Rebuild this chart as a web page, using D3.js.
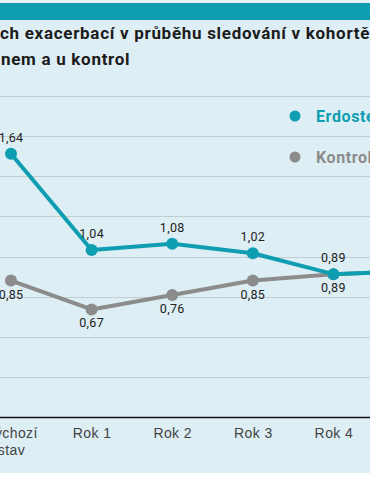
<!DOCTYPE html>
<html>
<head>
<meta charset="utf-8">
<script src="https://cdn.jsdelivr.net/npm/d3@7"></script>
<style>
  body { margin: 0; background: #fff; }
  svg { display: block; font-family: Roboto, "DejaVu Sans", sans-serif; }
</style>
</head>
<body>
<div id="chart"></div>
<script>
// data
var categories = ["Výchozí stav", "Rok 1", "Rok 2", "Rok 3", "Rok 4", "Rok 5"];
var erdostein = [1.64, 1.04, 1.08, 1.02, 0.89, 0.91];
var kontroly = [0.85, 0.67, 0.76, 0.85, 0.89, 0.91];
var yTicks = [0, 0.25, 0.5, 0.75, 1, 1.25, 1.5, 1.75, 2];
var seriesNames = ["Erdosteinem", "Kontroly"];
var titleLines = [
  "Počet akutních exacerbací v průběhu sledování v kohortě léčené",
  "erdosteinem a u kontrol"
];
// part of each title line that falls off the left edge in the source crop
var titleCut = ["Počet akutní", "erdostei"];

var svgWidth = 370;
var svgHeight = 478;
var teal = "#0f9db2";
var grey = "#8c8c8c";

var svg = d3.select("#chart")
  .append("svg")
  .attr("width", svgWidth)
  .attr("height", svgHeight);

// panel background + top band
svg.append("rect").attr("x", 0).attr("y", 0).attr("width", svgWidth).attr("height", 473).attr("fill", "#ddeef4");
svg.append("rect").attr("x", 0).attr("y", 0).attr("width", svgWidth).attr("height", 3).attr("fill", "#e6f3f6");
svg.append("rect").attr("x", 0).attr("y", 3).attr("width", svgWidth).attr("height", 17).attr("fill", teal);

// title, cropped on the left like the source picture
titleLines.forEach(function(line, i) {
  var t = svg.append("text")
    .attr("y", [39, 65][i])
    .attr("font-size", 17)
    .attr("font-weight", "bold")
    .attr("letter-spacing", 0.7)
    .attr("fill", "#1b1b1b")
    .text(line);
  var cut = t.node().getSubStringLength(0, titleCut[i].length);
  t.attr("x", -cut + (i == 0 ? 0 : 1));
});

// scales
var x = d3.scalePoint()
  .domain(categories)
  .range([11 - 80.6, 414 + 80.6])
  .padding(1);

var y = d3.scaleLinear()
  .domain([0, 2])
  .range([417, 96]);

// gridlines
svg.append("g")
  .selectAll("line")
  .data(yTicks.filter(d => d > 0))
  .enter()
  .append("line")
  .attr("x1", 0)
  .attr("x2", svgWidth)
  .attr("y1", d => Math.round(y(d)) + 0.5)
  .attr("y2", d => Math.round(y(d)) + 0.5)
  .attr("stroke", "#c3cdd2")
  .attr("stroke-width", 1);

// x axis
var xAxis = svg.append("g")
  .attr("transform", "translate(0, 417)")
  .call(d3.axisBottom(x).tickSize(0).tickSizeOuter(0).tickFormat(""));
xAxis.select(".domain").attr("stroke", "#111").attr("stroke-width", 1.3);

var tickText = xAxis.selectAll(".tick")
  .append("text")
  .attr("fill", "#444")
  .attr("font-size", 14)
  .attr("letter-spacing", 0.4)
  .attr("text-anchor", "middle");
tickText.each(function(d) {
  var words = d.split(" ");
  var el = d3.select(this);
  if (words[0] == "Výchozí") {
    el.append("tspan").attr("x", 0).attr("y", 21).text(words[0]);
    el.append("tspan").attr("x", 0).attr("y", 38).text(words[1]);
  } else {
    el.append("tspan").attr("x", 0).attr("y", 21).text(d);
  }
});

// lines
var line = d3.line()
  .x((d, i) => x(categories[i]))
  .y(d => y(d));

var series = [
  { name: seriesNames[1], values: kontroly, color: grey, dy: 18 },
  { name: seriesNames[0], values: erdostein, color: teal, dy: -12 }
];

var fmt = d => d3.format(".2f")(d).replace(".", ",");

series.forEach(function(s) {
  svg.append("path")
    .datum(s.values)
    .attr("fill", "none")
    .attr("stroke", s.color)
    .attr("stroke-width", 4)
    .attr("stroke-linejoin", "round")
    .attr("d", line);

  svg.selectAll(".pt-" + s.name)
    .data(s.values)
    .enter()
    .append("circle")
    .attr("cx", (d, i) => x(categories[i]))
    .attr("cy", d => y(d))
    .attr("r", 6)
    .attr("fill", s.color);

  svg.selectAll(".lbl-" + s.name)
    .data(s.values)
    .enter()
    .append("text")
    .attr("x", (d, i) => x(categories[i]))
    .attr("y", d => y(d) + s.dy)
    .attr("text-anchor", "middle")
    .attr("font-size", 12.5)
    .attr("letter-spacing", 0.3)
    .attr("fill", "#222")
    .text(fmt);
});

// legend
var legend = svg.append("g");
[{ name: seriesNames[0], color: teal, y: 116 }, { name: seriesNames[1], color: grey, y: 157 }].forEach(function(l) {
  legend.append("circle").attr("cx", 295).attr("cy", l.y).attr("r", 5.5).attr("fill", l.color);
  legend.append("text")
    .attr("x", 316)
    .attr("y", l.y + 5.5)
    .attr("font-size", 16)
    .attr("font-weight", "bold")
    .attr("letter-spacing", 0.6)
    .attr("fill", l.color)
    .text(l.name);
});
</script>
</body>
</html>
